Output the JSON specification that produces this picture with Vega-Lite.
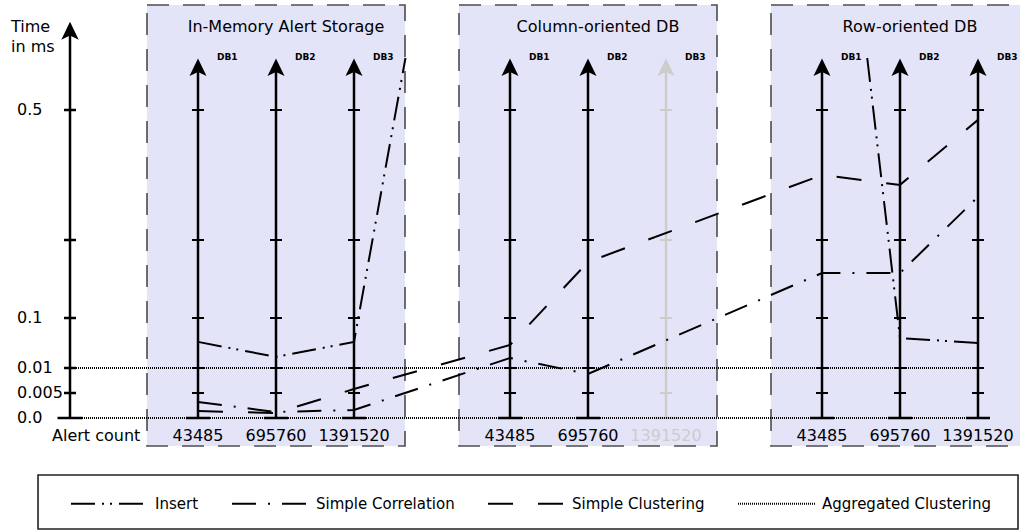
{
  "$schema": "https://vega.github.io/schema/vega-lite/v6.json",
  "width": 1020,
  "height": 531,
  "autosize": {"type": "none"},
  "padding": 0,
  "background": "white",
  "config": {"view": {"stroke": null}, "font": "DejaVu Sans"},
  "datasets": {
    "axes": [
      {"panel": "In-Memory Alert Storage", "db": "DB1", "count": "43485", "slot": 1, "measured": true, "ticks": [0.005, 0.01, 0.1, 0.25, 0.5]},
      {"panel": "In-Memory Alert Storage", "db": "DB2", "count": "695760", "slot": 2, "measured": true, "ticks": [0.005, 0.01, 0.1, 0.25, 0.5]},
      {"panel": "In-Memory Alert Storage", "db": "DB3", "count": "1391520", "slot": 3, "measured": true, "ticks": [0.005, 0.01, 0.1, 0.25, 0.5]},
      {"panel": "Column-oriented DB", "db": "DB1", "count": "43485", "slot": 5, "measured": true, "ticks": [0.005, 0.01, 0.1, 0.25, 0.5]},
      {"panel": "Column-oriented DB", "db": "DB2", "count": "695760", "slot": 6, "measured": true, "ticks": [0.005, 0.01, 0.1, 0.25, 0.5]},
      {"panel": "Column-oriented DB", "db": "DB3", "count": "1391520", "slot": 7, "measured": false, "ticks": [0.005, 0.01, 0.1, 0.25, 0.5]},
      {"panel": "Row-oriented DB", "db": "DB1", "count": "43485", "slot": 9, "measured": true, "ticks": [0.005, 0.01, 0.1, 0.25, 0.5]},
      {"panel": "Row-oriented DB", "db": "DB2", "count": "695760", "slot": 10, "measured": true, "ticks": [0.005, 0.01, 0.1, 0.25, 0.5]},
      {"panel": "Row-oriented DB", "db": "DB3", "count": "1391520", "slot": 11, "measured": true, "ticks": [0.005, 0.01, 0.1, 0.25, 0.5]}
    ],
    "levels": [
      {"ms": 0, "label": "0.0"},
      {"ms": 0.005, "label": "0.005"},
      {"ms": 0.01, "label": "0.01"},
      {"ms": 0.1, "label": "0.1"},
      {"ms": 0.25, "label": ""},
      {"ms": 0.5, "label": "0.5"}
    ],
    "series": [
      {"series": "Insert", "seg": "a", "slot": 1, "ms": 0.057},
      {"series": "Insert", "seg": "a", "slot": 2, "ms": 0.030},
      {"series": "Insert", "seg": "a", "slot": 3, "ms": 0.057},
      {"series": "Insert", "seg": "a", "slot": 3.66, "ms": 0.60},
      {"series": "Insert", "seg": "b", "slot": 9.58, "ms": 0.60},
      {"series": "Insert", "seg": "b", "slot": 10, "ms": 0.064},
      {"series": "Insert", "seg": "b", "slot": 11, "ms": 0.055},
      {"series": "Simple Correlation", "seg": "a", "slot": 1, "ms": 0.0032},
      {"series": "Simple Correlation", "seg": "a", "slot": 2, "ms": 0.0012},
      {"series": "Simple Correlation", "seg": "a", "slot": 3, "ms": 0.0016},
      {"series": "Simple Correlation", "seg": "a", "slot": 5, "ms": 0.028},
      {"series": "Simple Correlation", "seg": "a", "slot": 6, "ms": 0.0088},
      {"series": "Simple Correlation", "seg": "a", "slot": 9, "ms": 0.1865},
      {"series": "Simple Correlation", "seg": "a", "slot": 10, "ms": 0.1865},
      {"series": "Simple Correlation", "seg": "a", "slot": 11, "ms": 0.333},
      {"series": "Simple Clustering", "seg": "a", "slot": 1, "ms": 0.0014},
      {"series": "Simple Clustering", "seg": "a", "slot": 2, "ms": 0.0010},
      {"series": "Simple Clustering", "seg": "a", "slot": 3, "ms": 0.0058},
      {"series": "Simple Clustering", "seg": "a", "slot": 5, "ms": 0.0514},
      {"series": "Simple Clustering", "seg": "a", "slot": 6, "ms": 0.2077},
      {"series": "Simple Clustering", "seg": "a", "slot": 9, "ms": 0.375},
      {"series": "Simple Clustering", "seg": "a", "slot": 10, "ms": 0.356},
      {"series": "Simple Clustering", "seg": "a", "slot": 11, "ms": 0.481},
      {"series": "Aggregated Clustering", "seg": "a", "slot": -0.641, "ms": 0.01},
      {"series": "Aggregated Clustering", "seg": "a", "slot": 11.06, "ms": 0.01},
      {"series": "Aggregated Clustering", "seg": "b", "slot": -0.641, "ms": 0},
      {"series": "Aggregated Clustering", "seg": "b", "slot": 11.06, "ms": 0}
    ]
  },
  "layer": [
    {
      "data": {"name": "axes"},
      "mark": {"type": "rect", "xOffset": -51, "x2Offset": 51, "fill": "#e4e4f8", "stroke": "#4d4d4d", "strokeWidth": 1.6, "strokeDash": [22, 14]},
      "encoding": {
        "x": {"aggregate": "min", "field": "slot", "type": "quantitative", "axis": null,
              "scale": {"domain": [-1.5385, 11.5385], "nice": false, "zero": false}},
        "x2": {"aggregate": "max", "field": "slot"},
        "y": {"datum": 0.702, "type": "quantitative", "axis": null,
              "scale": {"type": "linear", "domain": [0, 0.005, 0.01, 0.1, 0.5], "range": [418, 393, 368, 318, 110], "nice": false, "zero": false}},
        "y2": {"datum": -0.0056},
        "detail": {"field": "panel"}
      }
    },
    {
      "data": {"values": [{"item": "legend frame"}]},
      "mark": {"type": "rect", "fill": "white", "stroke": "#222", "strokeWidth": 1.6},
      "encoding": {
        "x": {"datum": -1.051, "type": "quantitative", "axis": null},
        "x2": {"datum": 11.513},
        "y": {"datum": -0.0114, "type": "quantitative", "axis": null},
        "y2": {"datum": -0.0222}
      }
    },
    {
      "data": {"name": "axes"},
      "mark": {"type": "rule", "strokeWidth": 2.5},
      "encoding": {
        "x": {"field": "slot", "type": "quantitative", "axis": null},
        "y": {"datum": 0, "type": "quantitative", "axis": null},
        "y2": {"datum": 0.58},
        "color": {"condition": {"test": "datum.measured", "value": "black"}, "value": "#cccccc"}
      }
    },
    {
      "data": {"name": "axes"},
      "mark": {"type": "point", "shape": "M0,-1L0.85,0.75L0,0.35L-0.85,0.75Z", "size": 400, "filled": true, "opacity": 1, "strokeWidth": 0},
      "encoding": {
        "x": {"field": "slot", "type": "quantitative", "axis": null},
        "y": {"datum": 0.58, "type": "quantitative", "axis": null},
        "color": {"condition": {"test": "datum.measured", "value": "black"}, "value": "#cccccc"}
      }
    },
    {
      "data": {"name": "axes"},
      "transform": [{"flatten": ["ticks"]}],
      "mark": {"type": "point", "shape": "stroke", "size": 144, "strokeWidth": 2, "opacity": 1},
      "encoding": {
        "x": {"field": "slot", "type": "quantitative", "axis": null},
        "y": {"field": "ticks", "type": "quantitative", "axis": null},
        "color": {"condition": {"test": "datum.measured", "value": "black"}, "value": "#cccccc"}
      }
    },
    {
      "data": {"name": "axes"},
      "mark": {"type": "point", "shape": "stroke", "size": 576, "strokeWidth": 2.5, "opacity": 1},
      "encoding": {
        "x": {"field": "slot", "type": "quantitative", "axis": null},
        "y": {"datum": 0, "type": "quantitative", "axis": null},
        "color": {"condition": {"test": "datum.measured", "value": "black"}, "value": "#cccccc"}
      }
    },
    {
      "data": {"name": "axes"},
      "mark": {"type": "text", "align": "left", "baseline": "middle", "dx": 19, "dy": -11, "fontSize": 9, "fontWeight": "bold", "font": "DejaVu Sans"},
      "encoding": {
        "x": {"field": "slot", "type": "quantitative", "axis": null},
        "y": {"datum": 0.58, "type": "quantitative", "axis": null},
        "text": {"field": "db"},
        "color": {"value": "black"}
      }
    },
    {
      "data": {"name": "axes"},
      "mark": {"type": "text", "align": "center", "baseline": "middle", "dy": 18, "fontSize": 16, "font": "DejaVu Sans"},
      "encoding": {
        "x": {"field": "slot", "type": "quantitative", "axis": null},
        "y": {"datum": 0, "type": "quantitative", "axis": null},
        "text": {"field": "count"},
        "color": {"condition": {"test": "datum.measured", "value": "black"}, "value": "#cccccc"}
      }
    },
    {
      "data": {"name": "axes"},
      "transform": [{"filter": "datum.db === 'DB2'"}],
      "mark": {"type": "text", "align": "center", "baseline": "middle", "dx": 10, "fontSize": 16, "font": "DejaVu Sans"},
      "encoding": {
        "x": {"field": "slot", "type": "quantitative", "axis": null},
        "y": {"datum": 0.66, "type": "quantitative", "axis": null},
        "text": {"field": "panel"},
        "color": {"value": "black"}
      }
    },
    {
      "data": {"values": [{"item": "time axis"}]},
      "mark": {"type": "rule", "strokeWidth": 2.5, "color": "black"},
      "encoding": {
        "x": {"datum": -0.641, "type": "quantitative", "axis": null},
        "y": {"datum": 0, "type": "quantitative", "axis": null},
        "y2": {"datum": 0.65}
      }
    },
    {
      "data": {"values": [{"item": "time axis"}]},
      "mark": {"type": "point", "shape": "M0,-1L0.85,0.75L0,0.35L-0.85,0.75Z", "size": 420, "filled": true, "opacity": 1, "color": "black", "strokeWidth": 0},
      "encoding": {
        "x": {"datum": -0.641, "type": "quantitative", "axis": null},
        "y": {"datum": 0.65, "type": "quantitative", "axis": null}
      }
    },
    {
      "data": {"values": [{"item": "time axis"}]},
      "mark": {"type": "point", "shape": "stroke", "size": 625, "strokeWidth": 2.5, "opacity": 1, "color": "black"},
      "encoding": {
        "x": {"datum": -0.641, "type": "quantitative", "axis": null},
        "y": {"datum": 0, "type": "quantitative", "axis": null}
      }
    },
    {
      "data": {"name": "levels"},
      "transform": [{"filter": "datum.ms > 0"}],
      "mark": {"type": "point", "shape": "stroke", "size": 144, "strokeWidth": 2.5, "opacity": 1, "color": "black"},
      "encoding": {
        "x": {"datum": -0.641, "type": "quantitative", "axis": null},
        "y": {"field": "ms", "type": "quantitative", "axis": null}
      }
    },
    {
      "data": {"name": "levels"},
      "mark": {"type": "text", "align": "left", "baseline": "middle", "dx": -53, "fontSize": 16, "font": "DejaVu Sans", "color": "black"},
      "encoding": {
        "x": {"datum": -0.641, "type": "quantitative", "axis": null},
        "y": {"field": "ms", "type": "quantitative", "axis": null},
        "text": {"field": "label"}
      }
    },
    {
      "data": {"values": [{"label": "Time\nin ms"}]},
      "mark": {"type": "text", "align": "left", "baseline": "alphabetic", "dx": -59, "fontSize": 16, "font": "DejaVu Sans", "color": "black", "lineBreak": "\n", "lineHeight": 20},
      "encoding": {
        "x": {"datum": -0.641, "type": "quantitative", "axis": null},
        "y": {"datum": 0.65, "type": "quantitative", "axis": null},
        "text": {"field": "label"}
      }
    },
    {
      "data": {"values": [{"label": "Alert count"}]},
      "mark": {"type": "text", "align": "left", "baseline": "middle", "dx": -18, "dy": 18, "fontSize": 16, "font": "DejaVu Sans", "color": "black"},
      "encoding": {
        "x": {"datum": -0.641, "type": "quantitative", "axis": null},
        "y": {"datum": 0, "type": "quantitative", "axis": null},
        "text": {"field": "label"}
      }
    },
    {
      "data": {"name": "series"},
      "mark": {"type": "line", "strokeWidth": 2, "color": "black", "clip": true},
      "encoding": {
        "x": {"field": "slot", "type": "quantitative", "axis": null},
        "y": {"field": "ms", "type": "quantitative", "axis": null},
        "detail": {"field": "seg"},
        "strokeDash": {
          "field": "series", "type": "nominal",
          "scale": {
            "domain": ["Insert", "Simple Correlation", "Simple Clustering", "Aggregated Clustering"],
            "range": [[24, 7, 2, 6, 2, 7], [24, 12, 2, 12], [25, 25], [1, 1]]
          },
          "legend": {
            "orient": "none", "legendX": 70, "legendY": 464, "direction": "horizontal", "title": null,
            "symbolType": "stroke", "symbolSize": 5929, "symbolStrokeWidth": 2, "symbolStrokeColor": "black",
            "labelFont": "DejaVu Sans", "labelFontSize": 15, "labelColor": "black", "labelOffset": 6,
            "columnPadding": 29, "labelLimit": 400
          }
        }
      }
    }
  ]
}
